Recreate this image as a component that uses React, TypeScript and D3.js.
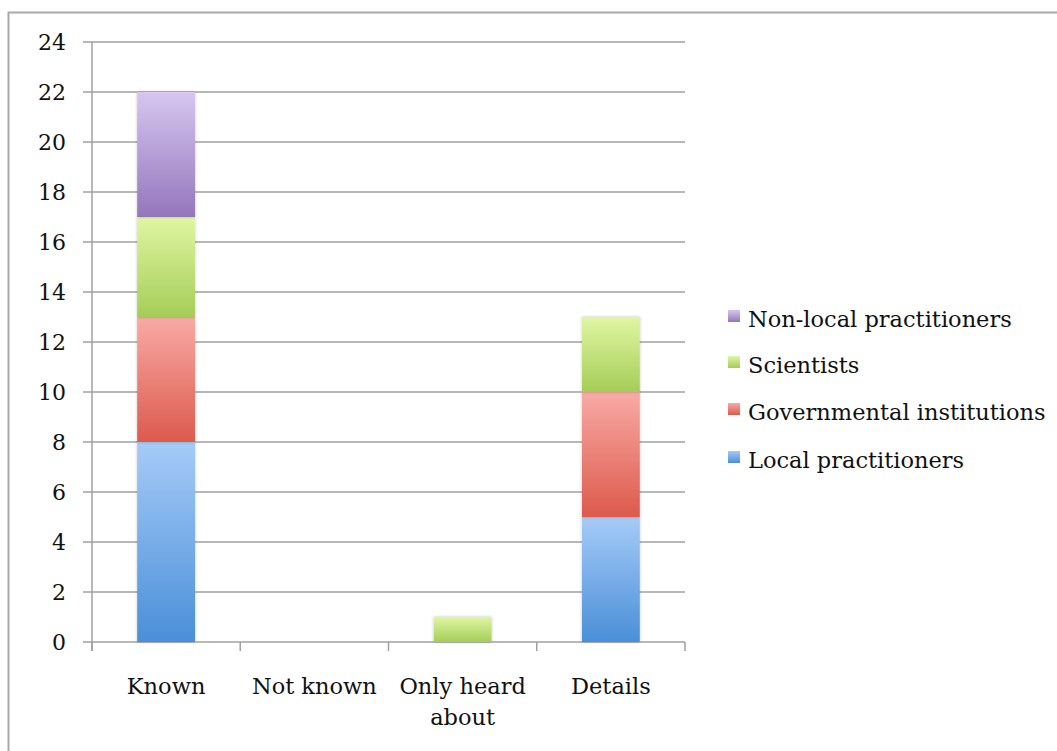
import React from "react";
import * as d3 from "d3";

const categories = ["Known", "Not known", "Only heard about", "Details"];
const categoryLines = [["Known"], ["Not known"], ["Only heard", "about"], ["Details"]];
const seriesNames = ["Local practitioners", "Governmental institutions", "Scientists", "Non-local practitioners"];
const localPractitioners = [8, 0, 0, 5];
const governmental = [5, 0, 0, 5];
const scientists = [4, 0, 1, 3];
const nonLocal = [5, 0, 0, 0];
const yTicks = [0, 2, 4, 6, 8, 10, 12, 14, 16, 18, 20, 22, 24];

const seriesColors = [
  { top: "#a6cbf8", bottom: "#4a8fd8" },
  { top: "#f9aaa5", bottom: "#dc5a4c" },
  { top: "#e0f6a3", bottom: "#a5cd58" },
  { top: "#d6c6f0", bottom: "#9476bc" },
];

const FONT = "'DejaVu Serif', serif";

export default function App() {
  const width = 1057;
  const height = 751;
  const left = 92;
  const right = 685;
  const top = 42;
  const bottom = 642;

  const x = d3.scaleBand<string>().domain(categories).range([left, right]).paddingInner(0.61).paddingOuter(0.305);
  const y = d3.scaleLinear().domain([0, 24]).range([bottom, top]);

  const rows = categories.map((c, i) => ({
    cat: c,
    s0: localPractitioners[i],
    s1: governmental[i],
    s2: scientists[i],
    s3: nonLocal[i],
  }));
  const stack = d3.stack<any>().keys(["s0", "s1", "s2", "s3"]);
  const layers = stack(rows);

  const step = (right - left) / categories.length;
  const legendY = [460, 412, 365, 319];

  return (
    <svg width={width} height={height} style={{ position: "absolute", left: 0, top: 0 }}>
      <defs>
        {seriesColors.map((c, i) => (
          <linearGradient key={i} id={`g${i}`} x1="0" y1="0" x2="0" y2="1">
            <stop offset="0%" stopColor={c.top} />
            <stop offset="100%" stopColor={c.bottom} />
          </linearGradient>
        ))}
        <filter id="soft" x="-20%" y="-20%" width="140%" height="140%">
          <feGaussianBlur in="SourceAlpha" stdDeviation="1.5" />
          <feOffset dx="0" dy="0" />
          <feComponentTransfer>
            <feFuncA type="linear" slope="0.25" />
          </feComponentTransfer>
          <feMerge>
            <feMergeNode />
            <feMergeNode in="SourceGraphic" />
          </feMerge>
        </filter>
      </defs>
      <rect x={0} y={0} width={width} height={height} fill="#fff" />
      <rect x={8.5} y={12.5} width={1060} height={760} fill="none" stroke="#a9a9a9" strokeWidth={2} />

      {/* gridlines with left tick stubs */}
      {yTicks.map((t) => (
        <line key={t} x1={83} x2={right} y1={y(t)} y2={y(t)} stroke="#a0a0a0" strokeWidth={1.5} />
      ))}
      <line x1={left} x2={left} y1={top} y2={bottom + 9} stroke="#a0a0a0" strokeWidth={1.5} />
      {d3.range(categories.length + 1).map((i) => (
        <line key={i} x1={left + i * step} x2={left + i * step} y1={bottom} y2={bottom + 9} stroke="#a0a0a0" strokeWidth={1.5} />
      ))}

      {yTicks.map((t) => (
        <text key={t} x={66} y={y(t)} dy="0.36em" textAnchor="end" fontFamily={FONT} fontSize={22} fill="#111">
          {t}
        </text>
      ))}

      {/* stacked bars */}
      {layers.map((layer, si) => (
        <g key={si}>
          {layer.map((d, ci) =>
            d[1] - d[0] > 0 ? (
              <rect
                key={ci}
                x={x(categories[ci])}
                y={y(d[1])}
                width={x.bandwidth()}
                height={y(d[0]) - y(d[1])}
                fill={`url(#g${si})`}
                filter="url(#soft)"
              />
            ) : null
          )}
        </g>
      ))}

      {categoryLines.map((lines, i) => (
        <text key={i} textAnchor="middle" fontFamily={FONT} fontSize={22.5} fill="#111">
          {lines.map((l, j) => (
            <tspan key={j} x={(x(categories[i]) as number) + x.bandwidth() / 2} y={694 + j * 31}>
              {l}
            </tspan>
          ))}
        </text>
      ))}

      {/* legend */}
      {seriesNames.map((name, i) => (
        <g key={name}>
          <rect x={728} y={legendY[i] - 9} width={12} height={12} fill={`url(#g${i})`} />
          <text x={748} y={legendY[i]} dy="0.36em" fontFamily={FONT} fontSize={22.5} fill="#111">
            {name}
          </text>
        </g>
      ))}
    </svg>
  );
}
